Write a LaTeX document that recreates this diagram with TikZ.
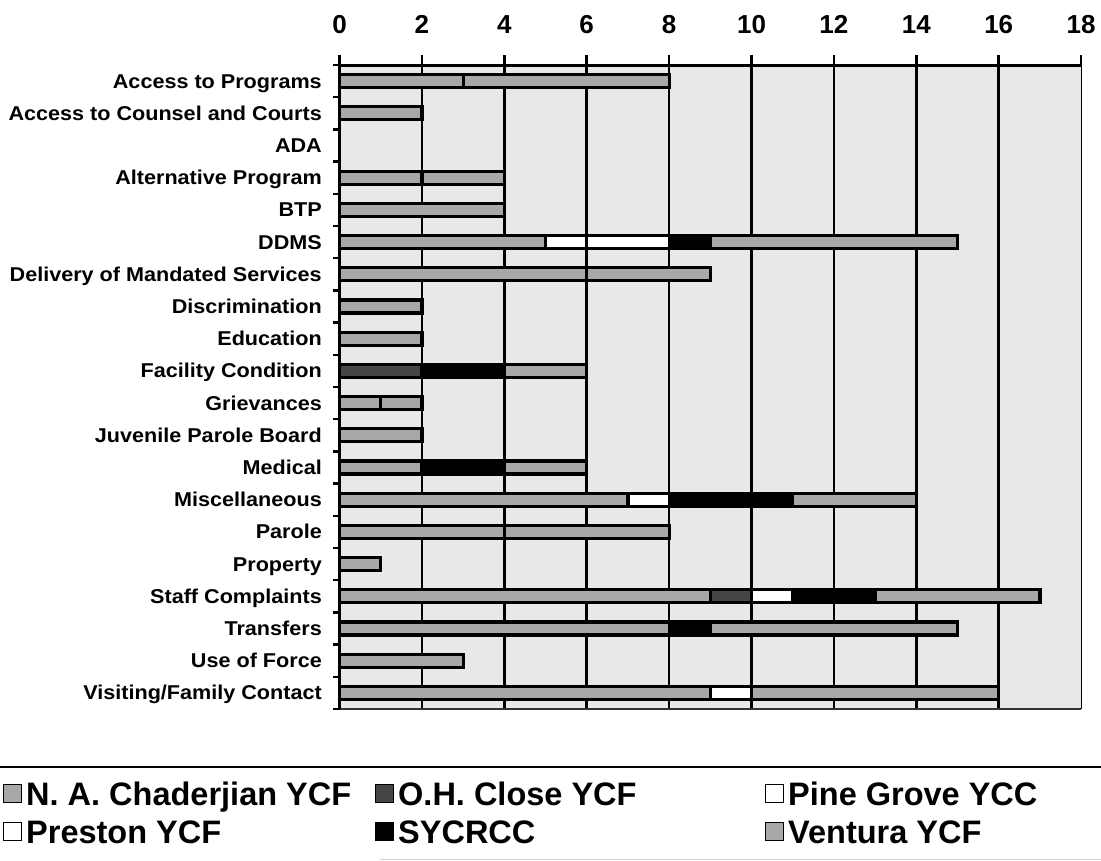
\documentclass[tikz,border=0pt]{standalone}
\usepackage{fontspec}
\setmainfont{Liberation Sans}
\newfontfamily\catfont[FakeStretch=1.08]{Liberation Sans}
\usepackage{tikz}
\usetikzlibrary{calc}
\usepackage{tkz-euclide}

\definecolor{plotbg}{gray}{0.91}
\definecolor{nac}{gray}{0.66}
\definecolor{ohc}{gray}{0.27}
\definecolor{pgy}{gray}{1}
\definecolor{pry}{gray}{1}
\definecolor{syc}{gray}{0}
\definecolor{ven}{gray}{0.66}

\tikzset{
  seg/.style={draw=black, line width=3.2bp},
  gridline/.style={draw=black, line width=2.5bp},
  catlabel/.style={anchor=base east, inner sep=0pt, font=\catfont\bfseries\fontsize{20bp}{22bp}\selectfont},
  ticklabel/.style={inner sep=0pt, font=\bfseries\fontsize{26bp}{28bp}\selectfont},
  legtext/.style={anchor=base west, inner sep=0pt, font=\bfseries\fontsize{32.5bp}{36bp}\selectfont},
  legbox/.style={draw=black, line width=1.4bp, minimum size=18bp, inner sep=0pt, anchor=south west}
}

\begin{document}
\begin{tikzpicture}[x=1bp, y=-1bp]
\useasboundingbox (0,0) rectangle (1101,861);
\begin{scope}[shift={(339.5bp,-65bp)}, x=41.2bp, y=-32.2bp]
  \tkzDefPoints{0/0/O, 18/0/X, 0/20/Y, 18/20/Z}
  \fill[plotbg] (O) rectangle (Z);
  \foreach \v in {2,4,...,16} \draw[gridline] (\v,0) -- (\v,20);
  \foreach \v in {0,2,...,18} {
    \draw[gridline] (\v,0) -- ++(0,-0.31);
    \node[ticklabel] (tick\v) at (\v,-1.27) {\v};
  }
  \foreach \r in {0,...,20} \draw[gridline] (0,\r) -- ++(-0.17,0);
  \draw[line width=1.2bp] (X) -- (Z);
  \draw[line width=2.2bp, black!80] (Y) -- (Z);
  \draw[line width=3bp] (O) -- (X);
  \draw[line width=3bp] (O) -- (Y);
  \foreach \r/\a/\b/\f in {0/0/3/nac, 0/3/8/ven, 1/0/2/nac, 3/0/2/nac, 3/2/4/ven,
      4/0/4/nac, 5/0/5/nac, 5/5/6/pgy, 5/6/8/pry, 5/8/9/syc, 5/9/15/ven,
      6/0/6/nac, 6/6/9/ven, 7/0/2/nac, 8/0/2/nac, 9/0/2/ohc, 9/2/4/syc, 9/4/6/ven,
      10/0/1/nac, 10/1/2/ven, 11/0/2/nac, 12/0/2/nac, 12/2/4/syc, 12/4/6/ven,
      13/0/7/nac, 13/7/8/pry, 13/8/11/syc, 13/11/14/ven, 14/0/4/nac, 14/4/8/ven,
      15/0/1/nac, 16/0/9/nac, 16/9/10/ohc, 16/10/11/pry, 16/11/13/syc, 16/13/17/ven,
      17/0/8/nac, 17/8/9/syc, 17/9/15/ven, 18/0/3/nac,
      19/0/9/nac, 19/9/10/pry, 19/10/16/ven}
    \draw[seg, fill=\f] (\a,\r+0.3) rectangle (\b,\r+0.7);
  \foreach \lab [count=\r from 0] in {Access to Programs, Access to Counsel and Courts,
      ADA, Alternative Program, BTP, DDMS, Delivery of Mandated Services,
      Discrimination, Education, Facility Condition, Grievances,
      Juvenile Parole Board, Medical, Miscellaneous, Parole, Property,
      Staff Complaints, Transfers, Use of Force, Visiting/Family Contact}
    \node[catlabel] (cat\r) at (-0.425,\r+0.72) {\lab};
\end{scope}
\draw[line width=2.2bp] (0,767) -- (1101,767);
\draw[gray!35, line width=1bp] (380,859) -- (1101,859);
\foreach \x/\y/\c/\t in {3/805/nac/{N. A. Chaderjian YCF}, 375/805/ohc/{O.H. Close YCF},
    765/805/pgy/{Pine Grove YCC}, 3/843/pry/{Preston YCF},
    375/843/syc/{SYCRCC}, 765/843/ven/{Ventura YCF}} {
  \node[legbox, fill=\c] (box\c) at (\x,\y-2) {};
  \node[legtext] (leg\c) at (\x+23,\y) {\t};
}
\end{tikzpicture}
\end{document}
